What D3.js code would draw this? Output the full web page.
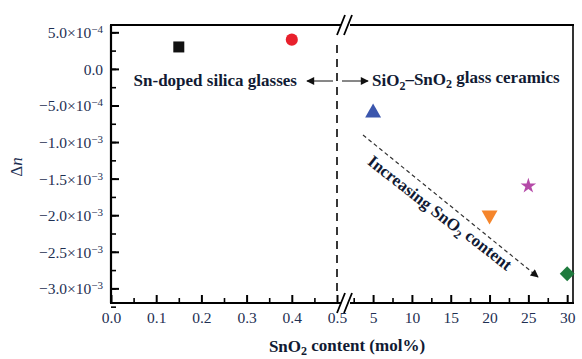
<!DOCTYPE html>
<html>
<head>
<meta charset="utf-8">
<script src="https://cdn.jsdelivr.net/npm/d3@7"></script>
<style>
  body { margin: 0; background: #fff; }
  text { font-family: "Liberation Serif", "Times New Roman", serif; }
</style>
</head>
<body>
<script>
// data
var samples   = ["0.15 mol%", "0.4 mol%", "5 mol%", "20 mol%", "25 mol%", "30 mol%"];
var snContent = [0.15, 0.4, 5, 20, 25, 30];
var deltaN    = [3.0e-4, 4.0e-4, -6.0e-4, -2.0e-3, -1.6e-3, -2.8e-3];
var markers   = ["square", "circle", "triangle", "triangleDown", "star", "diamond"];
var colors    = ["#111111", "#e8202c", "#3b56ad", "#f5852b", "#b54aa8", "#1f7b3e"];

var yTicks = [5e-4, 0, -5e-4, -1e-3, -1.5e-3, -2e-3, -2.5e-3, -3e-3];
var yTickMant = ["5.0", "0.0", "\u22125.0", "\u22121.0", "\u22121.5", "\u22122.0", "\u22122.5", "\u22123.0"];
var yTickExp  = ["\u22124", "", "\u22124", "\u22123", "\u22123", "\u22123", "\u22123", "\u22123"];
var xTicksLow  = [0.0, 0.1, 0.2, 0.3, 0.4, 0.5];
var xTicksHigh = [5, 10, 15, 20, 25, 30];

var W = 582, H = 359;
var mLeft = 111, mRight = 573, mTop = 25, mBottom = 303, brk = 337;
var ink = "#1e2f52";
var tickFont = "15.5px", labFont = "17px";

var svg = d3.select("body").append("svg")
    .attr("width", W)
    .attr("height", H);

// scales: broken x axis (two linear pieces)
var xLow  = d3.scaleLinear().domain([0, 0.5]).range([mLeft, brk]);
var xHigh = d3.scaleLinear().domain([0.35, 30.75]).range([brk, mRight]);
var y     = d3.scaleLinear().domain([-3.2e-3, 6e-4]).range([mBottom, mTop]);
function xPos(v) { return v <= 0.5 ? xLow(v) : xHigh(v); }

// y axis minor + major
svg.append("g")
    .attr("transform", "translate(" + mLeft + ",0)")
    .call(d3.axisLeft(y).tickValues(d3.range(-3.25e-3, 6e-4, 2.5e-4)).tickSize(-5).tickFormat(""))
    .call(function(g) { g.select(".domain").remove(); g.selectAll("line").attr("stroke", "#000").attr("stroke-width", 1.6); });

var yAx = svg.append("g")
    .attr("transform", "translate(" + mLeft + ",0)")
    .call(d3.axisLeft(y).tickValues(yTicks).tickSize(-8).tickPadding(8))
    .call(function(g) { g.select(".domain").remove(); g.selectAll("line").attr("stroke", "#000").attr("stroke-width", 2); });

yAx.selectAll("text").each(function(d, i) {
    var t = d3.select(this).text("")
        .attr("fill", ink)
        .style("font-size", tickFont)
        .attr("dy", "0.35em");
    t.append("tspan").text(yTickMant[i]);
    if (yTickExp[i]) {
        t.append("tspan").text("\u00d710");
        t.append("tspan").text(yTickExp[i]).attr("dy", "-0.45em").style("font-size", "11px");
    }
});

// x axis pieces
function xAxisPiece(scale, minor, major) {
    svg.append("g")
        .attr("transform", "translate(0," + mBottom + ")")
        .call(d3.axisBottom(scale).tickValues(minor).tickSize(-5).tickFormat(""))
        .call(function(g) { g.select(".domain").remove(); g.selectAll("line").attr("stroke", "#000").attr("stroke-width", 1.6); });
    var g = svg.append("g")
        .attr("transform", "translate(0," + mBottom + ")")
        .call(d3.axisBottom(scale).tickValues(major).tickSize(-8).tickPadding(9)
            .tickFormat(function(d) { return scale === xLow ? d3.format(".1f")(d) : d; }))
        .call(function(g) { g.select(".domain").remove(); g.selectAll("line").attr("stroke", "#000").attr("stroke-width", 2); });
    g.selectAll("text").attr("fill", ink).style("font-size", tickFont);
}
xAxisPiece(xLow, d3.range(0.05, 0.5, 0.1), xTicksLow);
xAxisPiece(xHigh, d3.range(2.5, 30, 5), xTicksHigh);

// frame
var frame = svg.append("g").attr("stroke", "#000").attr("fill", "none");
frame.append("line").attr("x1", mLeft).attr("x2", mLeft).attr("y1", mTop).attr("y2", mBottom).attr("stroke-width", 2.2);
frame.append("line").attr("x1", mRight).attr("x2", mRight).attr("y1", mTop).attr("y2", mBottom).attr("stroke-width", 1.6);
[mTop, mBottom].forEach(function(yy) {
    frame.append("line").attr("x1", mLeft - 1).attr("x2", 341).attr("y1", yy).attr("y2", yy).attr("stroke-width", 2.2);
    frame.append("line").attr("x1", 350).attr("x2", mRight + 1).attr("y1", yy).attr("y2", yy).attr("stroke-width", 2.2);
    // break marks
    frame.append("line").attr("x1", 337).attr("x2", 345).attr("y1", yy + 10).attr("y2", yy - 10).attr("stroke-width", 1.8);
    frame.append("line").attr("x1", 344).attr("x2", 352).attr("y1", yy + 10).attr("y2", yy - 10).attr("stroke-width", 1.8);
});

// dashed divider at 0.5 mol%
svg.append("line")
    .attr("x1", xLow(0.5)).attr("x2", xLow(0.5))
    .attr("y1", mTop + 20).attr("y2", mBottom - 8)
    .attr("stroke", "#222").attr("stroke-width", 1.8)
    .attr("stroke-dasharray", "8,6");

// arrow heads
var defs = svg.append("defs");
defs.append("marker")
    .attr("id", "head")
    .attr("viewBox", "0 0 10 10")
    .attr("refX", 9).attr("refY", 5)
    .attr("markerWidth", 10).attr("markerHeight", 8)
    .attr("markerUnits", "userSpaceOnUse")
    .attr("orient", "auto")
    .append("path").attr("d", "M0,0 L10,5 L0,10 Z").attr("fill", "#111");

// region labels
var yLab = 81;
svg.append("line").attr("x1", 333).attr("x2", 307).attr("y1", yLab).attr("y2", yLab)
    .attr("stroke", "#111").attr("stroke-width", 1).attr("marker-end", "url(#head)");
svg.append("line").attr("x1", 342).attr("x2", 368).attr("y1", yLab).attr("y2", yLab)
    .attr("stroke", "#111").attr("stroke-width", 1).attr("marker-end", "url(#head)");

svg.append("text")
    .attr("x", 297).attr("y", yLab + 5)
    .attr("text-anchor", "end")
    .attr("fill", "#111a33")
    .style("font-size", labFont).style("font-weight", "bold")
    .text("Sn-doped silica glasses");

var rightLab = svg.append("text")
    .attr("x", 372).attr("y", yLab + 5)
    .attr("fill", "#111a33")
    .style("font-size", labFont).style("font-weight", "bold");
rightLab.append("tspan").text("SiO");
rightLab.append("tspan").text("2").attr("dy", "0.3em").style("font-size", "12px");
rightLab.append("tspan").text("\u2013SnO").attr("dy", "-0.3em");
rightLab.append("tspan").text("2").attr("dy", "0.3em").style("font-size", "12px");
rightLab.append("tspan").text(" glass ceramics").attr("dy", "-0.3em");

// trend arrow
var a0 = [363, 135], a1 = [538, 277];
svg.append("line")
    .attr("x1", a0[0]).attr("y1", a0[1]).attr("x2", a1[0]).attr("y2", a1[1])
    .attr("stroke", "#333").attr("stroke-width", 1.2)
    .attr("stroke-dasharray", "4,3")
    .attr("marker-end", "url(#head)");

var ang = Math.atan2(a1[1] - a0[1], a1[0] - a0[0]) * 180 / Math.PI;
var trend = svg.append("text")
    .attr("transform", "translate(436,218) rotate(" + (ang - 1) + ")")
    .attr("text-anchor", "middle")
    .attr("fill", "#111a33")
    .style("font-size", labFont).style("font-weight", "bold");
trend.append("tspan").text("Increasing SnO");
trend.append("tspan").text("2").attr("dy", "0.3em").style("font-size", "12px");
trend.append("tspan").text(" content").attr("dy", "-0.3em");

// data markers
var symbolFor = {
    square: d3.symbol().type(d3.symbolSquare).size(121),
    circle: d3.symbol().type(d3.symbolCircle).size(115),
    triangle: d3.symbol().type(d3.symbolTriangle).size(110),
    triangleDown: d3.symbol().type(d3.symbolTriangle).size(110),
    star: d3.symbol().type(d3.symbolStar).size(75),
    diamond: d3.symbol().type(d3.symbolSquare).size(110)
};
var rot = { triangleDown: 180, diamond: 45 };

svg.append("g").selectAll("path")
    .data(samples)
    .enter()
    .append("path")
    .attr("d", function(d, i) { return symbolFor[markers[i]](); })
    .attr("transform", function(d, i) {
        return "translate(" + xPos(snContent[i]) + "," + y(deltaN[i]) + ") rotate(" + (rot[markers[i]] || 0) + ")";
    })
    .attr("fill", function(d, i) { return colors[i]; });

// axis titles
var yt = svg.append("text")
    .attr("transform", "translate(22,167) rotate(-90)")
    .attr("text-anchor", "middle")
    .attr("fill", ink)
    .style("font-size", labFont);
yt.append("tspan").text("\u0394");
yt.append("tspan").text("n").style("font-style", "italic");

var xt = svg.append("text")
    .attr("x", 347).attr("y", 352)
    .attr("text-anchor", "middle")
    .attr("fill", "#111a33")
    .style("font-size", labFont).style("font-weight", "bold");
xt.append("tspan").text("SnO");
xt.append("tspan").text("2").attr("dy", "0.25em").style("font-size", "12px");
xt.append("tspan").text(" content (mol%)").attr("dy", "-0.25em");
</script>
</body>
</html>
